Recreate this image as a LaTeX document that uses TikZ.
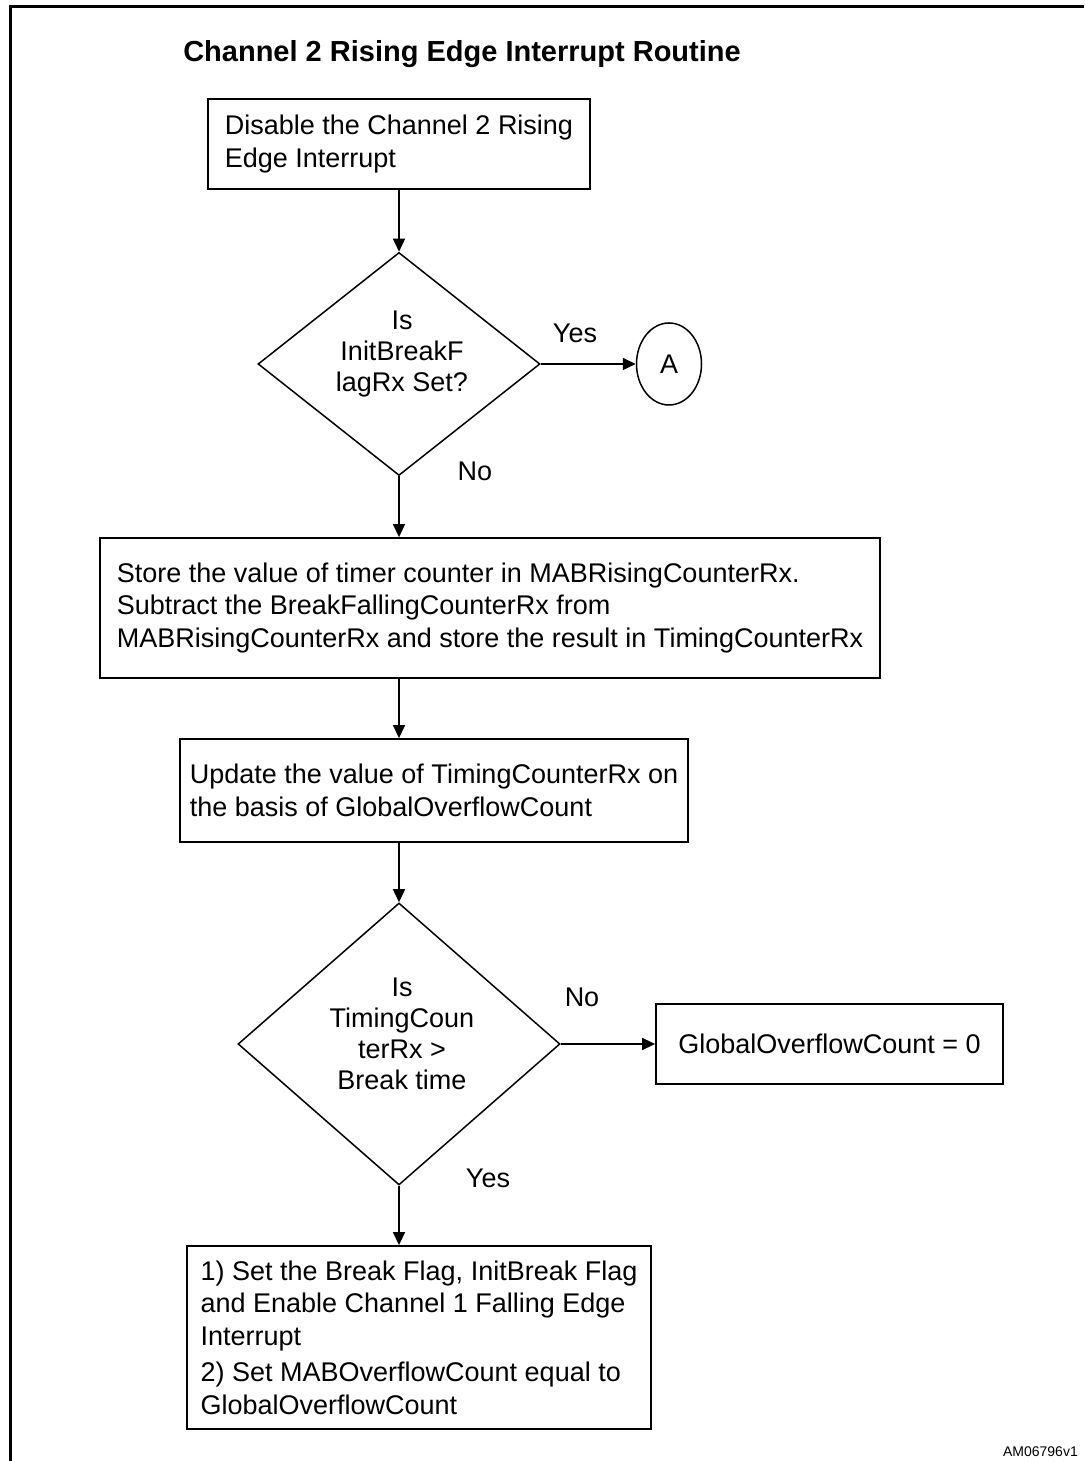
\documentclass[tikz,border=0pt]{standalone}
\usepackage{fontspec}
\setmainfont{Liberation Sans}
\usetikzlibrary{shapes.geometric,arrows.meta}
\begin{document}
\begin{tikzpicture}[x=1pt,y=1pt,
  box/.style={draw=drawColor,line width=1.8pt,rectangle,align=left,inner sep=0pt,font=\fontsize{27}{32.5}\selectfont},
  decision/.style={draw=drawColor,line width=1.5pt,diamond,inner sep=0pt},
  question/.style={text=drawColor,align=center,inner sep=0pt,font=\fontsize{27}{31}\selectfont},
  connector/.style={draw=drawColor,line width=1.5pt,ellipse,inner sep=0pt,font=\fontsize{27}{32.5}\selectfont},
  flow/.style={draw=drawColor,line width=1.5pt,-{Triangle[length=13pt,width=12pt]}},
  branch/.style={text=drawColor,inner sep=0pt,outer sep=0pt,font=\fontsize{27}{32.5}\selectfont}]
\definecolor{fillColor}{RGB}{255,255,255}
\definecolor{drawColor}{RGB}{0,0,0}
\path[use as bounding box,fill=fillColor] (0,0) rectangle (1084,1461);

% open frame
\path[draw=drawColor,line width=3pt] (10,0) -- (10,1454) -- (1084,1454);

\node[text=drawColor,inner sep=0pt,font=\bfseries\fontsize{29}{35}\selectfont] (title) at (462,1407) {Channel 2 Rising Edge Interrupt Routine};

\node[box,minimum width=382,minimum height=90] (disable) at (399,1317) {Disable the Channel 2 Rising\\Edge Interrupt};
\node[decision,minimum width=282,minimum height=223] (initflag) at (399,1097) {};
\node[question] (initflagtext) at (402,1107) {Is\\InitBreakF\\lagRx Set?};
\node[connector,minimum width=65,minimum height=82] (conA) at (669,1097) {A};
\node[box,minimum width=780,minimum height=140] (store) at (490,853) {Store the value of timer counter in MABRisingCounterRx.\\Subtract the BreakFallingCounterRx from\\MABRisingCounterRx and store the result in TimingCounterRx};
\node[box,minimum width=508,minimum height=103] (update) at (434,670.5) {Update the value of TimingCounterRx on\\the basis of GlobalOverflowCount};
\node[decision,minimum width=322,minimum height=282] (breaktime) at (399,417) {};
\node[question] (breaktimetext) at (402,427) {Is\\TimingCoun\\terRx >\\Break time};
\node[box,minimum width=347,minimum height=80,align=center] (resetcount) at (829.5,417) {GlobalOverflowCount = 0};
\node[box,minimum width=464,minimum height=183] (setflags) at (419,123.5) {1) Set the Break Flag, InitBreak Flag\\and Enable Channel 1 Falling Edge\\Interrupt\\[4pt]2) Set MABOverflowCount equal to\\GlobalOverflowCount};

% branch labels
\node[branch] (yesA) at (575,1128) {Yes};
\node[branch] (noA) at (475,990) {No};
\node[branch] (noB) at (582,464) {No};
\node[branch] (yesB) at (488,283) {Yes};

\node[text=drawColor,anchor=east,inner sep=0pt,font=\fontsize{14}{17}\selectfont] (docid) at (1078,9) {AM06796v1};

% connectors
\path[flow] (disable) -- (initflag);
\path[flow] (initflag.east) -- (conA.west);
\path[flow] (initflag.south) -- (initflag.south |- store.north);
\path[flow] (store.south -| initflag) -- (update.north -| initflag);
\path[flow] (update.south -| breaktime) -- (breaktime.north);
\path[flow] (breaktime.east) -- (resetcount.west);
\path[flow] (breaktime.south) -- (breaktime.south |- setflags.north);
\end{tikzpicture}
\end{document}
